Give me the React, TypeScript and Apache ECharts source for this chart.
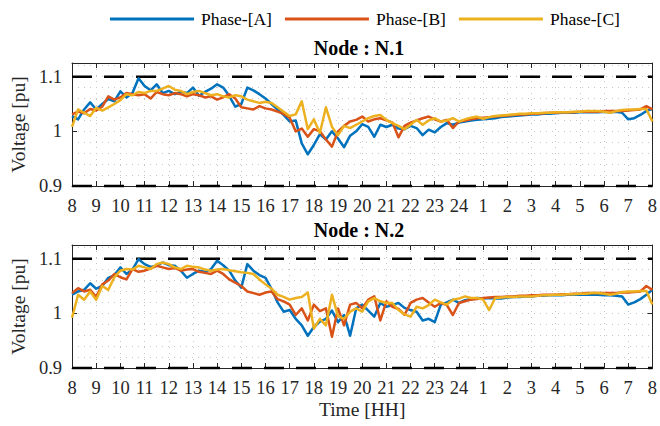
import React, { useEffect, useRef } from 'react';
import * as echarts from 'echarts';

const HOUR_LABELS = ['8','9','10','11','12','13','14','15','16','17','18','19','20','21','22','23','24','1','2','3','4','5','6','7','8'];
const PHASES = ['Phase-[A]', 'Phase-[B]', 'Phase-[C]'];
const NODES = ['Node : N.1', 'Node : N.2'];
const LIMITS = [1.1, 0.9];
const STEP_H = 0.25;

const N1_A = [
  1.028,1.022,1.040,1.053,1.040,1.050,1.059,1.055,1.073,1.062,1.070,1.097,1.083,1.075,1.086,1.070,
  1.074,1.068,1.072,1.070,1.080,1.065,1.072,1.078,1.086,1.080,1.065,1.045,1.050,1.080,1.075,1.068,
  1.060,1.050,1.040,1.030,1.018,1.020,0.978,0.958,0.975,0.995,0.985,1.000,0.987,0.971,0.992,1.000,
  1.013,1.008,0.990,1.012,1.008,1.012,1.005,1.004,1.010,1.006,0.993,1.003,0.998,1.008,1.015,1.012,
  1.016,1.018,1.020,1.021,1.022,1.023,1.024,1.026,1.027,1.028,1.029,1.030,1.031,1.031,1.032,1.032,
  1.033,1.034,1.034,1.034,1.035,1.035,1.035,1.035,1.036,1.035,1.036,1.034,1.022,1.024,1.030,1.037,
  1.041,
];
const N1_B = [
  1.031,1.036,1.033,1.041,1.038,1.045,1.064,1.058,1.062,1.070,1.068,1.066,1.068,1.060,1.072,1.068,
  1.066,1.070,1.068,1.064,1.068,1.066,1.062,1.064,1.058,1.062,1.068,1.060,1.044,1.042,1.040,1.046,
  1.042,1.040,1.036,1.032,1.025,1.000,1.005,0.990,1.004,1.000,0.985,0.972,1.000,1.010,1.018,1.021,
  1.027,1.018,1.022,1.024,1.020,1.016,0.989,1.010,1.016,1.020,1.024,1.027,1.022,1.018,1.021,1.006,
  1.018,1.020,1.022,1.024,1.025,1.026,1.027,1.028,1.029,1.030,1.031,1.031,1.032,1.032,1.033,1.034,
  1.034,1.035,1.035,1.035,1.036,1.036,1.036,1.036,1.037,1.037,1.037,1.037,1.038,1.039,1.040,1.046,
  1.040,
];
const N1_C = [
  1.008,1.040,1.034,1.028,1.043,1.038,1.044,1.050,1.057,1.068,1.066,1.072,1.070,1.074,1.074,1.078,
  1.083,1.076,1.074,1.068,1.072,1.074,1.070,1.066,1.068,1.064,1.062,1.066,1.064,1.058,1.055,1.052,
  1.054,1.052,1.044,1.036,1.028,1.031,1.055,1.004,1.022,0.997,1.044,1.008,0.993,1.010,1.006,1.012,
  1.018,1.024,1.028,1.030,1.021,1.015,1.010,1.004,1.012,1.021,1.012,1.020,1.024,1.018,1.020,1.024,
  1.018,1.022,1.025,1.027,1.023,1.026,1.028,1.029,1.030,1.031,1.032,1.032,1.033,1.033,1.034,1.034,
  1.035,1.035,1.035,1.036,1.036,1.037,1.037,1.037,1.036,1.034,1.037,1.039,1.040,1.040,1.041,1.041,
  1.018,
];
const N2_A = [
  1.034,1.040,1.043,1.055,1.045,1.050,1.065,1.070,1.084,1.072,1.080,1.099,1.090,1.085,1.087,1.093,
  1.088,1.087,1.078,1.065,1.072,1.078,1.076,1.081,1.096,1.088,1.078,1.060,1.047,1.090,1.078,1.070,
  1.065,1.045,1.020,1.003,1.006,0.990,0.978,0.959,0.975,0.985,0.990,1.005,0.984,0.997,0.959,1.009,
  1.016,1.005,0.994,1.019,1.012,1.015,1.019,1.010,1.006,1.003,0.987,0.990,0.984,1.016,1.020,1.025,
  1.019,1.024,1.026,1.028,1.027,1.028,1.027,1.027,1.029,1.030,1.030,1.031,1.031,1.032,1.032,1.033,
  1.033,1.033,1.034,1.034,1.034,1.034,1.034,1.034,1.033,1.033,1.032,1.031,1.016,1.020,1.026,1.034,
  1.043,
];
const N2_B = [
  1.037,1.046,1.040,1.043,1.030,1.053,1.060,1.072,1.066,1.062,1.081,1.076,1.078,1.082,1.087,1.084,
  1.081,1.083,1.078,1.080,1.081,1.076,1.074,1.072,1.078,1.072,1.062,1.056,1.050,1.040,1.037,1.034,
  1.038,1.040,1.026,1.022,1.016,0.997,1.009,0.987,1.016,1.004,1.009,0.957,1.009,0.978,1.016,1.019,
  1.009,1.025,1.031,0.987,1.022,1.012,1.008,0.997,1.019,1.025,1.028,1.020,1.012,1.019,1.015,0.997,
  1.019,1.022,1.025,1.026,1.028,1.029,1.030,1.030,1.031,1.031,1.032,1.032,1.033,1.033,1.034,1.034,
  1.034,1.035,1.035,1.036,1.036,1.037,1.037,1.037,1.037,1.037,1.037,1.038,1.038,1.039,1.040,1.050,
  1.043,
];
const N2_C = [
  0.992,1.034,1.025,1.040,1.025,1.050,1.043,1.066,1.078,1.081,1.080,1.087,1.084,1.081,1.090,1.093,
  1.090,1.084,1.081,1.087,1.085,1.084,1.080,1.078,1.080,1.081,1.079,1.077,1.075,1.074,1.072,1.062,
  1.053,1.045,1.034,1.030,1.025,1.028,1.030,1.038,0.972,0.990,0.978,1.034,0.995,0.990,1.003,1.009,
  1.003,1.022,1.028,1.022,1.019,1.019,1.006,0.998,0.994,1.012,1.009,1.015,1.025,1.020,1.016,1.025,
  1.027,1.031,1.028,1.028,1.025,1.006,1.028,1.029,1.030,1.030,1.031,1.031,1.031,1.032,1.033,1.033,
  1.034,1.034,1.035,1.035,1.036,1.036,1.037,1.037,1.036,1.034,1.036,1.039,1.040,1.040,1.041,1.041,
  1.016,
];

const NODE_DATA = [[N1_A, N1_B, N1_C], [N2_A, N2_B, N2_C]];
const COLORS = ['#0072BD', '#D95319', '#EDB120'];
const FONT = 'Liberation Serif';
const AXIS_COLOR = '#262626';
const GRID_COLOR = '#c6c6c6';
const GRID_DASH = [1, 5];

export default function App() {
  const ref = useRef<HTMLDivElement>(null);

  useEffect(() => {
    if (!ref.current) return;
    const chart = echarts.init(ref.current, null, { renderer: 'svg' });

    const gridTops = [63, 245];
    const grids = gridTops.map((t) => ({ left: 71, top: t, width: 583, height: 123 }));

    const xAxes: any[] = [];
    const yAxes: any[] = [];
    grids.forEach((_, g) => {
      xAxes.push({
        type: 'value', gridIndex: g, min: 0, max: 24, interval: 1, position: 'bottom',
        name: g === 1 ? 'Time [HH]' : '', nameLocation: 'middle', nameGap: 31,
        nameTextStyle: { fontFamily: FONT, fontSize: 19.5, color: AXIS_COLOR },
        axisLine: { show: true, onZero: false, lineStyle: { color: AXIS_COLOR, width: 1 } },
        axisTick: { show: true, inside: true, length: 5, lineStyle: { color: AXIS_COLOR } },
        axisLabel: {
          formatter: (v: number) => HOUR_LABELS[Math.round(v)] ?? '',
          fontFamily: FONT, fontSize: 18.5, color: AXIS_COLOR, margin: 10,
        },
        splitLine: { show: true, lineStyle: { color: GRID_COLOR, type: GRID_DASH, width: 1 } },
      });
      xAxes.push({
        type: 'value', gridIndex: g, min: 0, max: 24, interval: 1, position: 'top',
        axisLine: { show: true, onZero: false, lineStyle: { color: AXIS_COLOR, width: 1 } },
        axisTick: { show: true, inside: true, length: 5, lineStyle: { color: AXIS_COLOR } },
        axisLabel: { show: false },
        splitLine: { show: false },
      });
      yAxes.push({
        type: 'value', gridIndex: g, min: 0.9, max: 1.125, interval: 0.1, position: 'left',
        name: 'Voltage [pu]', nameLocation: 'middle', nameGap: 36, nameRotate: 90,
        nameTextStyle: { fontFamily: FONT, fontSize: 19.5, color: AXIS_COLOR },
        axisLine: { show: true, onZero: false, lineStyle: { color: AXIS_COLOR, width: 1 } },
        axisTick: { show: true, inside: true, length: 5, lineStyle: { color: AXIS_COLOR } },
        axisLabel: {
          formatter: (v: number) => {
            const r = Math.round(v * 10) / 10;
            if (Math.abs(r - v) > 1e-6) return '';
            return String(parseFloat(r.toFixed(1)));
          },
          fontFamily: FONT, fontSize: 18.5, color: AXIS_COLOR, margin: 10,
        },
        splitLine: { show: true, lineStyle: { color: GRID_COLOR, type: GRID_DASH, width: 1 } },
        minorTick: { show: false, splitNumber: 5 },
        minorSplitLine: { show: true, lineStyle: { color: GRID_COLOR, type: GRID_DASH, width: 1 } },
      });
      yAxes.push({
        type: 'value', gridIndex: g, min: 0.9, max: 1.125, interval: 0.1, position: 'right',
        axisLine: { show: true, onZero: false, lineStyle: { color: AXIS_COLOR, width: 1 } },
        axisTick: { show: true, inside: true, length: 5, lineStyle: { color: AXIS_COLOR } },
        axisLabel: { show: false },
        splitLine: { show: false },
      });
    });

    const series: any[] = [];
    NODE_DATA.forEach((phases, g) => {
      LIMITS.forEach((lim) => {
        series.push({
          type: 'line', xAxisIndex: g * 2, yAxisIndex: g * 2, silent: true, clip: false,
          symbol: 'none', z: 3,
          data: [[0, lim], [24, lim]],
          lineStyle: { color: '#000', width: 2.5, type: [20, 12] },
        });
      });
      phases.forEach((vals, p) => {
        series.push({
          name: PHASES[p], type: 'line', xAxisIndex: g * 2, yAxisIndex: g * 2,
          symbol: 'none', z: 4 + p,
          data: vals.map((v, i) => [i * STEP_H, v]),
          lineStyle: { color: COLORS[p], width: 2.5, join: 'round' },
          itemStyle: { color: COLORS[p] },
        });
      });
    });

    chart.setOption({
      animation: false,
      backgroundColor: '#fff',
      legend: {
        data: PHASES, top: 5, left: 105, icon: 'rect', itemWidth: 84, itemHeight: 3, itemGap: 13,
        textStyle: { fontFamily: FONT, fontSize: 17.5, color: '#000', padding: [0, 0, 0, 2] },
      },
      grid: grids,
      xAxis: xAxes,
      yAxis: yAxes,
      series,
      graphic: NODES.map((t, g) => ({
        type: 'text', x: 359, y: gridTops[g] - 15,
        style: { text: t, fontFamily: FONT, fontSize: 20, fontWeight: 'bold', fill: '#000', align: 'center', verticalAlign: 'middle' },
      })),
    });

    return () => chart.dispose();
  }, []);

  return <div ref={ref} style={{ position: 'absolute', left: 0, top: 0, width: 660, height: 426 }} />;
}
